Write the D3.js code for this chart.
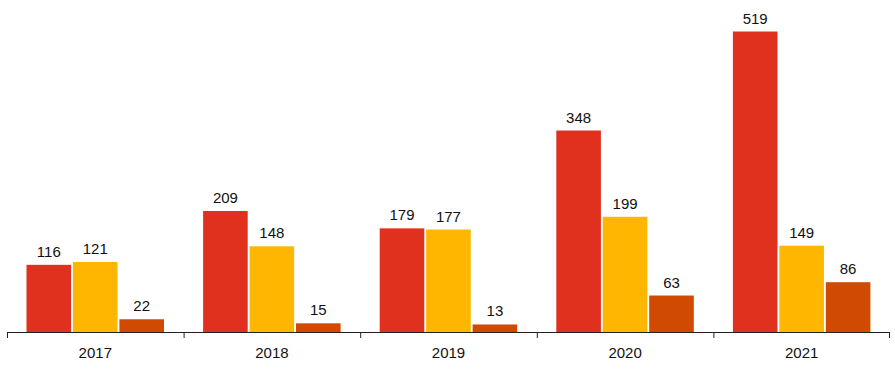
<!DOCTYPE html>
<html>
<head>
<meta charset="utf-8">
<script src="https://cdn.jsdelivr.net/npm/d3@7"></script>
<style>
  body { margin: 0; background: #fff; }
  svg { display: block; font-family: "Liberation Sans", Arial, sans-serif; }
</style>
</head>
<body>
<svg class="vis" width="895" height="370"></svg>
<script>
const years = ["2017", "2018", "2019", "2020", "2021"];
const seriesA = [116, 209, 179, 348, 519];
const seriesB = [121, 148, 177, 199, 149];
const seriesC = [22, 15, 13, 63, 86];
const seriesColors = ["#e0301e", "#ffb600", "#d04a02"];

const series = [seriesA, seriesB, seriesC];

const svg = d3.select("svg.vis");

const baseY = 332;

const x0 = d3.scaleBand()
  .domain(years)
  .range([7, 890])
  .padding(0);

const x1 = d3.scaleBand()
  .domain(d3.range(series.length))
  .range([19.5, 157])
  .paddingInner(0.04);

const y = d3.scaleLinear()
  .domain([0, 519])
  .range([baseY, 31.5]);

const groups = svg.append("g")
  .selectAll("g")
  .data(years)
  .join("g")
  .attr("transform", d => `translate(${x0(d)},0)`);

const cells = groups.selectAll("g")
  .data((yr, i) => series.map((s, k) => ({ k: k, v: s[i] })))
  .join("g");

cells.append("rect")
  .attr("x", d => x1(d.k))
  .attr("width", x1.bandwidth())
  .attr("y", d => y(d.v))
  .attr("height", d => baseY - y(d.v))
  .attr("fill", d => seriesColors[d.k]);

cells.append("text")
  .attr("x", d => x1(d.k) + x1.bandwidth() / 2)
  .attr("y", d => y(d.v) - 8)
  .attr("text-anchor", "middle")
  .attr("font-size", 15)
  .attr("fill", "#111")
  .text(d => d.v);

// axis along the bottom, ticks between groups
const axis = svg.append("g")
  .attr("transform", `translate(0,${baseY})`)
  .call(d3.axisBottom(x0).tickSize(0).tickPadding(15));

axis.select(".domain").remove();
axis.selectAll("text")
  .attr("font-size", 15)
  .attr("font-family", "Liberation Sans, Arial, sans-serif")
  .attr("fill", "#111");

axis.append("line")
  .attr("x1", 7).attr("x2", 890)
  .attr("y1", 0.5).attr("y2", 0.5)
  .attr("stroke", "#222");

axis.selectAll("line.sep")
  .data(years.concat(["end"]))
  .join("line")
  .attr("class", "sep")
  .attr("x1", (d, i) => i < years.length ? x0(d) + 0.5 : x0(years[years.length - 1]) + x0.bandwidth() - 0.5)
  .attr("x2", (d, i) => i < years.length ? x0(d) + 0.5 : x0(years[years.length - 1]) + x0.bandwidth() - 0.5)
  .attr("y1", 0)
  .attr("y2", 6)
  .attr("stroke", "#222");
</script>
</body>
</html>
